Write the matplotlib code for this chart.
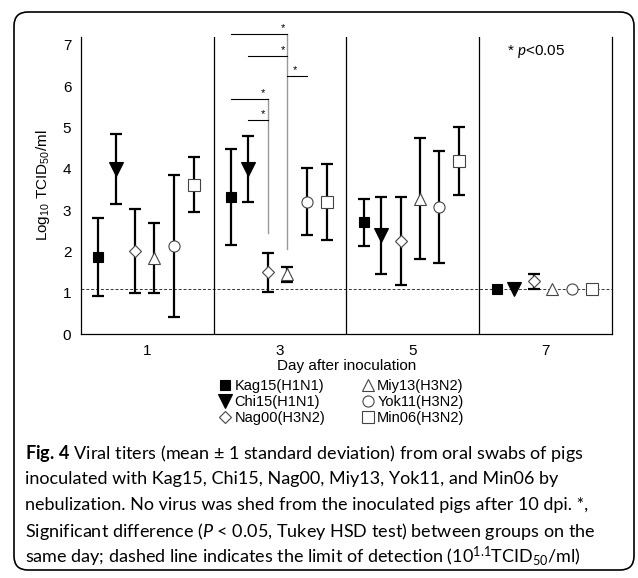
import numpy as np
import matplotlib
matplotlib.use("Agg")
import matplotlib.pyplot as plt
from matplotlib.lines import Line2D
from matplotlib.patches import FancyBboxPatch

plt.rcParams["font.family"] = ["Liberation Sans", "DejaVu Sans"]
plt.rcParams["mathtext.fontset"] = "custom"
plt.rcParams["mathtext.default"] = "regular"
plt.rcParams["mathtext.bf"] = "Lato:bold"
plt.rcParams["mathtext.it"] = "Lato:italic"

# ---------------------------------------------------------------
# data (log10 TCID50/ml, mean and SD per strain per day)
# ---------------------------------------------------------------
DAYS = [1, 3, 5, 7]
STRAINS = ["Kag15(H1N1)", "Chi15(H1N1)", "Nag00(H3N2)",
           "Miy13(H3N2)", "Yok11(H3N2)", "Min06(H3N2)"]

kag15_mean = [1.87, 3.32, 2.71, 1.10]
kag15_sd   = [0.95, 1.16, 0.57, 0.00]
chi15_mean = [4.00, 4.00, 2.40, 1.10]
chi15_sd   = [0.84, 0.79, 0.93, 0.00]
nag00_mean = [2.02, 1.50, 2.26, 1.28]
nag00_sd   = [1.01, 0.47, 1.07, 0.18]
miy13_mean = [1.85, 1.45, 3.28, 1.10]
miy13_sd   = [0.84, 0.18, 1.47, 0.00]
yok11_mean = [2.14, 3.21, 3.08, 1.10]
yok11_sd   = [1.72, 0.81, 1.36, 0.00]
min06_mean = [3.62, 3.20, 4.20, 1.10]
min06_sd   = [0.66, 0.92, 0.82, 0.00]

MEANS = [kag15_mean, chi15_mean, nag00_mean, miy13_mean, yok11_mean, min06_mean]
SDS   = [kag15_sd, chi15_sd, nag00_sd, miy13_sd, yok11_sd, min06_sd]

LOD = 1.1

# significance brackets on day 3: (strain a, strain b, height, star position 0..1)
BRACKETS = [
    (0, 3, 7.26, 0.93),
    (1, 3, 6.73, 0.90),
    (3, 4, 6.25, 0.40),
    (0, 2, 5.69, 0.85),
    (1, 2, 5.18, 0.75),
]
# grey drop lines: (strain, top, bottom)
DROPS = [(3, 7.26, 2.06), (2, 5.69, 2.45)]

# ---------------------------------------------------------------
# styles
# ---------------------------------------------------------------
OFFSETS = [-0.74, -0.48, -0.18, 0.10, 0.40, 0.70]
STYLES = [
    dict(marker="s", ms=7.5, mfc="black", mec="black", mew=0.8),
    dict(marker="v", ms=10, mfc="black", mec="black", mew=0.8),
    dict(marker="D", ms=6, mfc="white", mec="#444444", mew=0.8),
    dict(marker="^", ms=8.5, mfc="white", mec="#444444", mew=0.8),
    dict(marker="o", ms=8, mfc="white", mec="#444444", mew=0.8),
    dict(marker="s", ms=8, mfc="white", mec="#444444", mew=0.8),
]

fig = plt.figure(figsize=(6.38, 5.78), dpi=100)
ax = fig.add_axes([81 / 638, 1 - 334.3 / 578, 531 / 638, 297.6 / 578])

for i in range(len(STRAINS)):
    for d, day in enumerate(DAYS):
        x = day + OFFSETS[i]
        m, s = MEANS[i][d], SDS[i][d]
        if s > 0:
            ax.errorbar(x, m, yerr=s, fmt="none", ecolor="black",
                        elinewidth=1.6, capsize=4.2, capthick=1.6, zorder=2)
        ax.plot(x, m, linestyle="none", zorder=3, **STYLES[i])

ax.axhline(LOD, color="#333333", linewidth=0.7, linestyle=(0, (3, 2)), zorder=1)
for xb in [2, 4, 6]:
    ax.axvline(xb, color="black", linewidth=0.9, zorder=1)

# significance annotations (day 3)
for a, b, h, frac in BRACKETS:
    xa = 3 + OFFSETS[a]
    xb = 3 + OFFSETS[b]
    ax.plot([xa, xb], [h, h], color="black", linewidth=0.8, clip_on=False, zorder=2)
    ax.text(xa + frac * (xb - xa), h + 0.03, "*", fontsize=8, ha="center",
            va="bottom", clip_on=False)
for s, top, bot in DROPS:
    xs = 3 + OFFSETS[s]
    ax.plot([xs, xs], [top, bot], color="#999999", linewidth=1.0, clip_on=False, zorder=1)

ax.text(6.42, 6.83, r"* $\mathit{p}$<0.05", fontsize=11, ha="left", va="center")

ax.set_xlim(0, 8)
ax.set_ylim(0, 7.2)
ax.set_xticks(DAYS)
ax.set_yticks(range(0, 8))
ax.tick_params(length=0, labelsize=11)
ax.tick_params(axis="x", pad=7)
ax.tick_params(axis="y", pad=7)
ax.spines["top"].set_visible(False)
for sp in ["left", "bottom", "right"]:
    ax.spines[sp].set_linewidth(0.9)
ax.set_xlabel("Day after inoculation", fontsize=11, labelpad=1)
ax.set_ylabel("Log$_{10}$ TCID$_{50}$/ml", fontsize=11, labelpad=8)

handles = [Line2D([], [], linestyle="none", **STYLES[i]) for i in range(len(STRAINS))]
fig.legend(handles, STRAINS, ncol=2, loc="center",
           bbox_to_anchor=(342 / 638, 1 - 402 / 578), frameon=False,
           fontsize=10.5, handlelength=0.8, handletextpad=0.25,
           columnspacing=2.5, labelspacing=0.12, borderpad=0)

# caption
CAPTION = [
    r"$\mathbf{Fig.\,4}$ Viral titers (mean ± 1 standard deviation) from oral swabs of pigs",
    "inoculated with Kag15, Chi15, Nag00, Miy13, Yok11, and Min06 by",
    "nebulization. No virus was shed from the inoculated pigs after 10 dpi. *,",
    r"Significant difference ($\mathit{P}$ < 0.05, Tukey HSD test) between groups on the",
    r"same day; dashed line indicates the limit of detection (10$^{1.1}$TCID$_{50}$/ml)",
]
for k, line in enumerate(CAPTION):
    fig.text(25 / 638, 1 - (453 + 26 * k) / 578, line, fontsize=13,
             family="Lato", ha="left", va="center")

# rounded frame
frame = FancyBboxPatch((0.14, 0.08), 6.20, 5.58,
                       boxstyle="round,pad=0,rounding_size=0.14",
                       transform=fig.dpi_scale_trans, fill=False,
                       edgecolor="black", linewidth=1.2)
fig.patches.append(frame)

fig.savefig("out.png", dpi=100)
